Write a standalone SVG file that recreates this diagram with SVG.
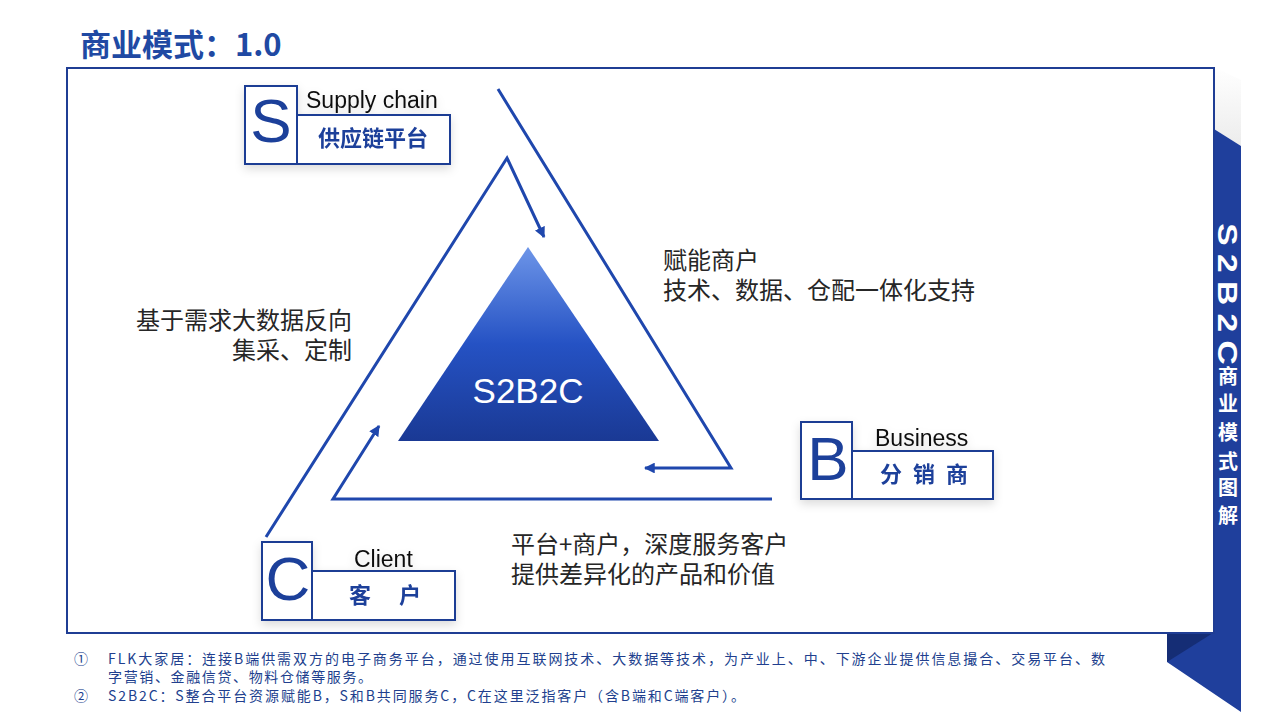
<svg xmlns="http://www.w3.org/2000/svg" width="1280" height="720" viewBox="0 0 1280 720">
<defs>
  <style>
    .cn { font-family: "Noto Sans CJK SC", "Liberation Sans", sans-serif; }
    .lat { font-family: "Liberation Sans", Arial, sans-serif; }
    .box { fill: #ffffff; stroke: #1f3d94; stroke-width: 2; }
    .big { font-family: "Liberation Sans", Arial, sans-serif; font-size: 62px; fill: #1d3f9a; text-anchor: middle; }
    .en { font-family: "Liberation Sans", Arial, sans-serif; font-size: 23px; fill: #111111; }
    .lab { font-family: "Noto Sans CJK SC", sans-serif; font-size: 22px; font-weight: bold; fill: #1d3f9a; }
    .body { font-family: "Noto Sans CJK SC", "Liberation Sans", sans-serif; font-size: 24px; fill: #262626; }
    .note { font-family: "Noto Sans CJK SC", "Liberation Sans", sans-serif; font-size: 14px; fill: #213f8e; }
    .flow { fill: none; stroke: #1f47ad; stroke-width: 3; stroke-linejoin: miter; }
    .bar { font-family: "Noto Sans CJK SC", "Liberation Sans", sans-serif; font-weight: bold; fill: #ffffff; text-anchor: middle; }
    .barlat { font-family: "Liberation Sans", Arial, sans-serif; font-weight: bold; fill: #ffffff; text-anchor: middle; }
  </style>
  <linearGradient id="tri" x1="0" y1="0" x2="0" y2="1">
    <stop offset="0" stop-color="#6d95e8"/>
    <stop offset="0.5" stop-color="#2552c4"/>
    <stop offset="1" stop-color="#1a3994"/>
  </linearGradient>
  <linearGradient id="shade" x1="0" y1="0" x2="0" y2="1">
    <stop offset="0" stop-color="#ffffff"/>
    <stop offset="1" stop-color="#ececec"/>
  </linearGradient>
  <marker id="arr" viewBox="0 0 10 10" refX="9" refY="5" markerWidth="3.6" markerHeight="3.6" orient="auto" markerUnits="strokeWidth">
    <path d="M0,0 L10,5 L0,10 z" fill="#1f47ad"/>
  </marker>
  <filter id="sh" x="-20%" y="-20%" width="140%" height="160%">
    <feDropShadow dx="0" dy="4" stdDeviation="5" flood-color="#000000" flood-opacity="0.14"/>
  </filter>
</defs>

<rect x="0" y="0" width="1280" height="720" fill="#ffffff"/>

<!-- title -->
<text id="title" x="80" y="56" class="cn" font-size="31" font-weight="bold" fill="#2049a3">商业模式：1.0</text>

<!-- right ribbon -->
<g id="ribbon">
  <polygon points="1214,67 1241,80 1241,146 1214,129" fill="url(#shade)"/>
  <polygon points="1214,129 1241,146 1241,712 1167,662 1167,633 1214,633" fill="#1f3f9c"/>
  <polygon points="1167,633 1213,633 1167,662" fill="#152d75"/>
  <text class="barlat" font-size="28" transform="translate(1218,294) rotate(90) scale(1.2,1)" textLength="118" lengthAdjust="spacing" x="0" y="0">S2B2C</text>
  <text class="bar" font-size="20" x="1228" y="384">商</text>
  <text class="bar" font-size="20" x="1228" y="411">业</text>
  <text class="bar" font-size="20" x="1228" y="440">模</text>
  <text class="bar" font-size="20" x="1228" y="469">式</text>
  <text class="bar" font-size="20" x="1228" y="495">图</text>
  <text class="bar" font-size="20" x="1228" y="523">解</text>
</g>

<!-- main frame -->
<rect id="frame" x="67" y="68" width="1147" height="565" fill="#ffffff" stroke="#1f3d94" stroke-width="2"/>

<!-- connectors -->
<g id="connectors">
  <polyline class="flow" points="266,537 507,158 544,237" marker-end="url(#arr)"/>
  <polyline class="flow" points="498,89 731,468 645,468" marker-end="url(#arr)"/>
  <polyline class="flow" points="772,499 333,499 379,426" marker-end="url(#arr)"/>
</g>

<!-- centre triangle -->
<g id="core">
  <polygon points="528,247 659,441 398,441" fill="url(#tri)"/>
  <text x="528" y="403" class="lat" font-size="35" fill="#ffffff" text-anchor="middle">S2B2C</text>
</g>

<!-- S node -->
<g id="node-s" filter="url(#sh)">
  <rect class="box" x="245" y="86" width="52" height="78"/>
  <rect class="box" x="297" y="115" width="153" height="49"/>
  <text class="big" x="271" y="142">S</text>
  <text class="en" x="306" y="108">Supply chain</text>
  <text class="lab" x="373" y="146" text-anchor="middle">供应链平台</text>
</g>

<!-- B node -->
<g id="node-b" filter="url(#sh)">
  <rect class="box" x="801" y="422" width="51" height="77"/>
  <rect class="box" x="852" y="451" width="141" height="48"/>
  <text class="big" x="828" y="480">B</text>
  <text class="en" x="875" y="446">Business</text>
  <text class="lab" x="880" y="482" font-size="21" letter-spacing="11">分销商</text>
</g>

<!-- C node -->
<g id="node-c" filter="url(#sh)">
  <rect class="box" x="262" y="542" width="50" height="78"/>
  <rect class="box" x="312" y="571" width="143" height="49"/>
  <text class="big" x="288" y="600">C</text>
  <text class="en" x="354" y="567">Client</text>
  <text class="lab" x="349" y="603" font-size="21" letter-spacing="28">客户</text>
</g>

<!-- labels -->
<g id="labels">
  <text class="body" x="663" y="269">赋能商户</text>
  <text class="body" x="663" y="299">技术、数据、仓配一体化支持</text>
  <text class="body" x="352" y="329" text-anchor="end">基于需求大数据反向</text>
  <text class="body" x="352" y="359" text-anchor="end">集采、定制</text>
  <text class="body" x="511" y="553">平台+商户，深度服务客户</text>
  <text class="body" x="511" y="583">提供差异化的产品和价值</text>
</g>

<!-- footnotes -->
<g id="notes">
  <text class="note" x="74" y="664">①</text>
  <text class="note" x="108" y="664" textLength="997" lengthAdjust="spacing">FLK大家居：连接B端供需双方的电子商务平台，通过使用互联网技术、大数据等技术，为产业上、中、下游企业提供信息撮合、交易平台、数</text>
  <text class="note" x="108" y="682" textLength="264" lengthAdjust="spacing">字营销、金融信贷、物料仓储等服务。</text>
  <text class="note" x="74" y="701">②</text>
  <text class="note" x="108" y="701" textLength="637" lengthAdjust="spacing">S2B2C：S整合平台资源赋能B，S和B共同服务C，C在这里泛指客户（含B端和C端客户）。</text>
</g>
</svg>
